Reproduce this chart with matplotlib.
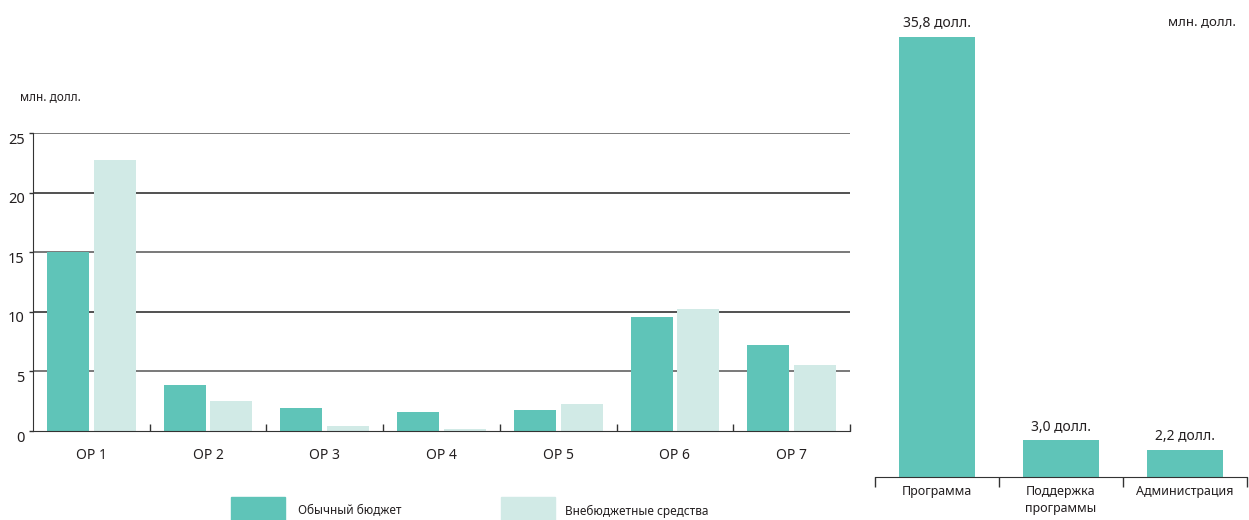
import matplotlib
matplotlib.use("Agg")
import matplotlib.pyplot as plt
import matplotlib.transforms as mtransforms
import numpy as np

plt.rcParams["font.family"] = ["Noto Sans", "DejaVu Sans"]

# Left chart: budget by OP
OP_LABELS = ["OP 1", "OP 2", "OP 3", "OP 4", "OP 5", "OP 6", "OP 7"]
REGULAR = [15.0, 3.9, 1.9, 1.6, 1.8, 9.6, 7.2]
EXTRA = [22.7, 2.5, 0.4, 0.2, 2.3, 10.2, 5.5]
Y_TICKS = [0, 5, 10, 15, 20, 25]

# Right chart: totals by category
CATEGORIES = ["Программа", "Поддержка\nпрограммы", "Администрация"]
TOTALS = [35.8, 3.0, 2.2]
TOTAL_LABELS = ["35,8 долл.", "3,0 долл.", "2,2 долл."]

DARK = "#5FC4B8"
LIGHT = "#D1EAE6"
TEXT = "#231F20"
W, H = 1249, 520

fig = plt.figure(figsize=(W / 100, H / 100), dpi=100)

# --- left chart ---
ax = fig.add_axes([33 / W, 89 / H, 817 / W, 298 / H])
x = np.arange(len(OP_LABELS))
ax.bar(x - 0.2, REGULAR, width=0.36, color=DARK, zorder=2)
ax.bar(x + 0.2, EXTRA, width=0.36, color=LIGHT, zorder=2)
ax.set_xlim(-0.5, len(OP_LABELS) - 0.5)
ax.set_ylim(0, 25)
ax.set_yticks(Y_TICKS)
ax.set_yticklabels([str(v) for v in Y_TICKS], fontsize=10.5, color=TEXT)
for i, yv in enumerate(Y_TICKS[1:]):
    ax.axhline(yv, color="#222222" if i % 2 else "#555555", lw=1.1, zorder=1)
ax.set_xticks(x)
ax.set_xticklabels(OP_LABELS, fontsize=10, color=TEXT)
ax.tick_params(axis="x", length=0, pad=12)
ax.set_xticks(np.arange(0.5, len(OP_LABELS) + 0.5, 1.0), minor=True)
ax.tick_params(axis="x", which="minor", direction="in", length=5, width=1, color="#333333")
ax.tick_params(axis="y", direction="out", length=3, width=1, color="#333333", pad=3)
for s in ["top", "right"]:
    ax.spines[s].set_visible(False)
ax.spines["left"].set_color("#333333")
ax.spines["bottom"].set_color("#333333")
ax.spines["bottom"].set_zorder(3)
off = mtransforms.ScaledTranslation(0, -5 / 100, fig.dpi_scale_trans)
for lab in ax.get_yticklabels():
    lab.set_transform(lab.get_transform() + off)
fig.text(20 / W, 1 - 97 / H, "млн. долл.", fontsize=8.5, color=TEXT, va="center")

# --- right chart ---
ax2 = fig.add_axes([875 / W, 43 / H, 372 / W, 467 / H])
x2 = np.arange(len(CATEGORIES))
ax2.bar(x2, TOTALS, width=0.613, color=DARK, zorder=2)
for xi, v, lab in zip(x2, TOTALS, TOTAL_LABELS):
    ax2.annotate(lab, (xi, v), xytext=(0, 4), textcoords="offset points",
                 ha="center", va="bottom", fontsize=10, color=TEXT)
ax2.set_xlim(-0.5, len(CATEGORIES) - 0.5)
ax2.set_ylim(0, 38)
ax2.set_yticks([])
ax2.set_xticks(x2)
ax2.set_xticklabels(CATEGORIES, fontsize=9, color=TEXT, va="top", linespacing=1.35)
ax2.tick_params(axis="x", length=0, pad=6)
ax2.set_xticks(np.arange(-0.5, len(CATEGORIES), 1.0), minor=True)
ax2.tick_params(axis="x", which="minor", direction="out", length=7, width=1, color="#333333")
for s in ["top", "right", "left"]:
    ax2.spines[s].set_visible(False)
ax2.spines["bottom"].set_color("#333333")
fig.text(1 - 13 / W, 1 - 22 / H, "млн. долл.", fontsize=9.5, color=TEXT, ha="right", va="center")

# --- legend ---
fig.patches.append(plt.Rectangle((231 / W, 0), 54 / W, 23 / H, color=DARK,
                                 transform=fig.transFigure, figure=fig))
fig.patches.append(plt.Rectangle((501 / W, 0), 54 / W, 23 / H, color=LIGHT,
                                 transform=fig.transFigure, figure=fig))
fig.text(298 / W, 1 - 511 / H, "Обычный бюджет", fontsize=8.5, color=TEXT, va="center")
fig.text(565 / W, 1 - 511 / H, "Внебюджетные средства", fontsize=8.5, color=TEXT, va="center")

fig.savefig("out.png", dpi=100)
